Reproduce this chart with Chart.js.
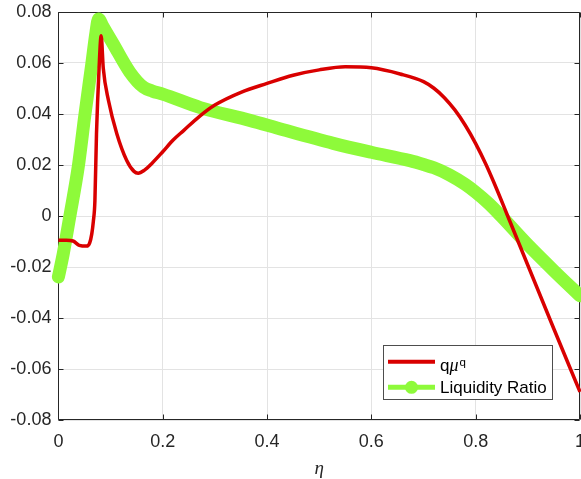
<!DOCTYPE html>
<html><head><meta charset="utf-8">
<script src="https://cdn.jsdelivr.net/npm/chart.js@4/dist/chart.umd.min.js"></script>
<style>html,body{margin:0;padding:0;background:#fff;overflow:hidden}</style>
</head><body>
<canvas id="c" width="581" height="479"></canvas>
<script>
// ---- data ----
const etaRed = [0, 0.015, 0.028, 0.04, 0.054, 0.06, 0.064, 0.067, 0.07, 0.073, 0.078, 0.082, 0.086, 0.096, 0.112, 0.131, 0.145, 0.153, 0.165, 0.18, 0.2, 0.22, 0.24, 0.27, 0.30, 0.35, 0.40, 0.45, 0.50, 0.55, 0.60, 0.655, 0.70, 0.72, 0.74, 0.76, 0.78, 0.80, 0.82, 0.84, 0.86, 0.9, 0.95, 1.0];
const qmuq = [-0.0095, -0.0095, -0.0098, -0.0115, -0.0118, -0.0105, -0.0070, -0.0021, 0.006, 0.032, 0.058, 0.0707, 0.058, 0.0453, 0.0323, 0.0218, 0.0175, 0.0168, 0.0180, 0.0208, 0.0252, 0.0298, 0.0335, 0.0390, 0.0435, 0.0485, 0.0520, 0.0552, 0.0573, 0.0585, 0.0581, 0.0557, 0.0527, 0.0501, 0.0464, 0.0416, 0.0356, 0.0284, 0.0201, 0.0107, 0.0007, -0.0193, -0.0443, -0.0690];
const etaGreen = [0, 0.0094, 0.022, 0.038, 0.051, 0.064, 0.072, 0.077, 0.085, 0.105, 0.137, 0.163, 0.18, 0.2, 0.272, 0.367, 0.431, 0.527, 0.6, 0.674, 0.70, 0.72, 0.75, 0.78, 0.80, 0.825, 0.85, 0.9, 0.95, 1.0];
const liquidityRatio = [-0.0239, -0.0147, 0.000, 0.0192, 0.040, 0.0596, 0.072, 0.0773, 0.0745, 0.0675, 0.0564, 0.0505, 0.0490, 0.0478, 0.0425, 0.0375, 0.0338, 0.0285, 0.0250, 0.0217, 0.0202, 0.0189, 0.0161, 0.0124, 0.0093, 0.0049, -0.0003, -0.0113, -0.0215, -0.0313];
const xTicks = [0, 0.2, 0.4, 0.6, 0.8, 1];
const yTicks = [-0.08, -0.06, -0.04, -0.02, 0, 0.02, 0.04, 0.06, 0.08];
const seriesLabels = ['qμ^q', 'Liquidity Ratio'];
const xTitle = 'η';

const RED = 'rgb(217,0,0)';
const GREEN = 'rgb(142,250,58)';
const AXIS = '#262626';
const FONT = "'Liberation Sans', Arial, sans-serif";

const toPts = (xs, ys) => xs.map((x, i) => ({x: x, y: ys[i]}));
const fmt = v => String(Number(Number(v).toFixed(4)));

const boxPlugin = {
  id: 'matlabBox',
  beforeDatasetsDraw(chart) {
    const {ctx, chartArea: a, scales} = chart;
    ctx.save();
    ctx.strokeStyle = AXIS;
    ctx.lineWidth = 1;
    const L = Math.round(a.left) + 0.5, R = Math.round(a.right) - 0.5;
    const T = Math.round(a.top) + 0.5, B = Math.round(a.bottom) - 0.5;
    ctx.beginPath();
    ctx.rect(L, T, R - L, B - T);
    ctx.stroke();
    const tl = 5;
    ctx.beginPath();
    xTicks.forEach(v => {
      const px = Math.round(scales.x.getPixelForValue(v)) + 0.5;
      ctx.moveTo(px, B); ctx.lineTo(px, B - tl);
      ctx.moveTo(px, T); ctx.lineTo(px, T + tl);
    });
    yTicks.forEach(v => {
      const py = Math.round(scales.y.getPixelForValue(v)) + 0.5;
      ctx.moveTo(L, py); ctx.lineTo(L + tl, py);
      ctx.moveTo(R, py); ctx.lineTo(R - tl, py);
    });
    ctx.stroke();
    ctx.restore();
  }
};

const legendPlugin = {
  id: 'matlabLegend',
  afterDraw(chart) {
    const {ctx, chartArea: a} = chart;
    const x0 = a.right - 197, y0 = a.bottom - 75, w = 169, h = 54;
    ctx.save();
    ctx.fillStyle = '#fff';
    ctx.fillRect(x0, y0, w, h);
    ctx.strokeStyle = '#4d4d4d';
    ctx.lineWidth = 1;
    ctx.strokeRect(Math.round(x0) + 0.5, Math.round(y0) + 0.5, w, h);
    const rows = [y0 + 16.7, y0 + 42.3];
    const lx1 = x0 + 5, lx2 = x0 + 52;
    chart.data.datasets.forEach((ds, i) => {
      const ly = rows[i];
      ctx.strokeStyle = ds.borderColor;
      ctx.lineWidth = i === 0 ? 4 : 5;
      ctx.lineCap = 'butt';
      ctx.beginPath(); ctx.moveTo(lx1, ly); ctx.lineTo(lx2, ly); ctx.stroke();
      if (i === 1) {
        ctx.fillStyle = ds.borderColor;
        ctx.beginPath(); ctx.arc((lx1 + lx2) / 2, ly, 6.5, 0, Math.PI * 2); ctx.fill();
      }
      ctx.fillStyle = '#000';
      ctx.textBaseline = 'alphabetic';
      ctx.textAlign = 'left';
      const parts = ds.label.split('^');
      const base = ly + (parts[1] ? 9.5 : 6.0);
      let tx = x0 + 57;
      for (const ch of parts[0]) {
        const greek = /[\u0370-\u03ff]/.test(ch);
        ctx.font = greek ? "italic 18px 'Liberation Serif', serif" : '17px ' + FONT;
        ctx.fillText(ch, tx, base);
        tx += ctx.measureText(ch).width;
      }
      if (parts[1]) {
        tx += 1;
        ctx.font = '11.5px ' + FONT;
        ctx.fillText(parts[1], tx, base - 5.5);
      }
    });
    ctx.restore();
  }
};

new Chart(document.getElementById('c'), {
  type: 'line',
  data: {
    datasets: [
      {label: seriesLabels[0], data: toPts(etaRed, qmuq), borderColor: RED, backgroundColor: RED,
       borderWidth: 3.5, pointRadius: 0, cubicInterpolationMode: 'monotone', fill: false, clip: false},
      {label: seriesLabels[1], data: toPts(etaGreen, liquidityRatio), borderColor: GREEN, backgroundColor: GREEN,
       borderWidth: 13, pointRadius: 0, cubicInterpolationMode: 'monotone', fill: false, clip: false,
       borderCapStyle: 'round', borderJoinStyle: 'round'}
    ]
  },
  options: {
    responsive: false,
    animation: false,
    events: [],
    layout: {padding: {top: 12, right: 1, left: 0, bottom: 0}},
    plugins: {legend: {display: false}, tooltip: {enabled: false}},
    scales: {
      x: {
        type: 'linear', min: 0, max: 1,
        afterBuildTicks: s => { s.ticks = xTicks.map(v => ({value: v})); },
        afterFit: s => { s.height = 59; s.paddingLeft = 0; s.paddingRight = 0; },
        ticks: {callback: v => fmt(v), color: AXIS, font: {family: FONT, size: 18}, padding: 11, maxRotation: 0, autoSkip: false},
        grid: {color: '#e3e3e3', drawTicks: false},
        border: {display: false},
        title: {display: true, text: xTitle, color: AXIS, font: {family: "'Liberation Serif', serif", size: 19, style: 'italic', lineHeight: 1}, padding: {top: 0, bottom: 1}}
      },
      y: {
        type: 'linear', min: -0.08, max: 0.08,
        afterBuildTicks: s => { s.ticks = yTicks.map(v => ({value: v})); },
        afterFit: s => { s.width = 58.4; s.paddingTop = 0; s.paddingBottom = 0; },
        ticks: {callback: v => fmt(v), color: AXIS, font: {family: FONT, size: 18}, padding: 7, autoSkip: false},
        grid: {color: '#e3e3e3', drawTicks: false},
        border: {display: false}
      }
    }
  },
  plugins: [boxPlugin, legendPlugin]
});
</script>
</body></html>
